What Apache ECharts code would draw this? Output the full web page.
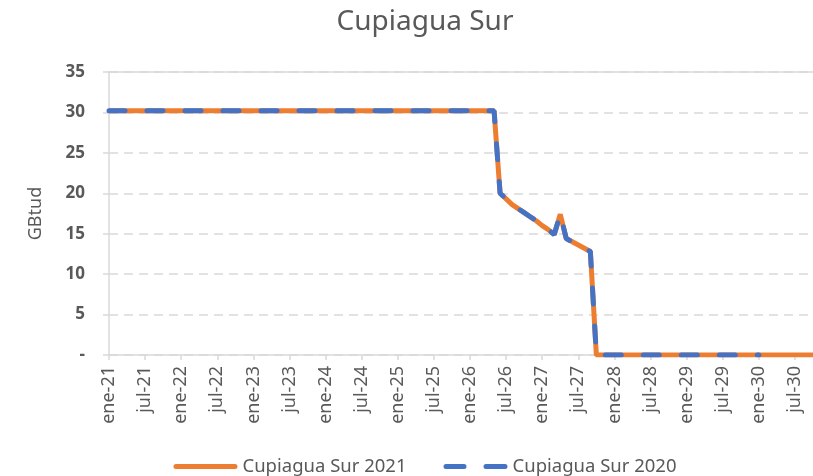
<!DOCTYPE html>
<html>
<head>
    <meta charset="utf-8">
    <title>Cupiagua Sur</title>
    <script src="https://cdn.jsdelivr.net/npm/echarts@6/dist/echarts.min.js"></script>
    <style>
        html, body { margin: 0; padding: 0; background: #fff; overflow: hidden; }
        /* el grafico original es mas ancho y aparece recortado a la derecha */
        #main { width: 850px; height: 476px; }
    </style>
</head>
<body>
<div id="main"></div>
<script type="text/javascript">
// meses en espanol, eje mensual ene-21 .. dic-30
var mesesNombre = ['ene', 'feb', 'mar', 'abr', 'may', 'jun', 'jul', 'ago', 'sep', 'oct', 'nov', 'dic'];
var anios = ['21', '22', '23', '24', '25', '26', '27', '28', '29', '30'];
var meses = [];
for (var a = 0; a < anios.length; a++) {
    for (var m = 0; m < mesesNombre.length; m++) {
        meses.push(mesesNombre[m] + '-' + anios[a]);
    }
}

// GBtud, un valor por mes (una fila por año)
var cupiagua2021 = [
    30.2, 30.2, 30.2, 30.2, 30.2, 30.2, 30.2, 30.2, 30.2, 30.2, 30.2, 30.2,
    30.2, 30.2, 30.2, 30.2, 30.2, 30.2, 30.2, 30.2, 30.2, 30.2, 30.2, 30.2,
    30.2, 30.2, 30.2, 30.2, 30.2, 30.2, 30.2, 30.2, 30.2, 30.2, 30.2, 30.2,
    30.2, 30.2, 30.2, 30.2, 30.2, 30.2, 30.2, 30.2, 30.2, 30.2, 30.2, 30.2,
    30.2, 30.2, 30.2, 30.2, 30.2, 30.2, 30.2, 30.2, 30.2, 30.2, 30.2, 30.2,
    30.2, 30.2, 30.2, 30.2, 30.2, 20.0, 19.3, 18.6, 18.1, 17.6, 17.1, 16.6,
    16.0, 15.5, 14.9, 17.4, 14.4, 14.0, 13.6, 13.2, 12.8, 0, 0, 0,
    0, 0, 0, 0, 0, 0, 0, 0, 0, 0, 0, 0,
    0, 0, 0, 0, 0, 0, 0, 0, 0, 0, 0, 0,
    0, 0, 0, 0, 0, 0, 0, 0, 0, 0, 0, 0
];

// la serie 2020 termina en ene-30
var cupiagua2020 = [
    30.2, 30.2, 30.2, 30.2, 30.2, 30.2, 30.2, 30.2, 30.2, 30.2, 30.2, 30.2,
    30.2, 30.2, 30.2, 30.2, 30.2, 30.2, 30.2, 30.2, 30.2, 30.2, 30.2, 30.2,
    30.2, 30.2, 30.2, 30.2, 30.2, 30.2, 30.2, 30.2, 30.2, 30.2, 30.2, 30.2,
    30.2, 30.2, 30.2, 30.2, 30.2, 30.2, 30.2, 30.2, 30.2, 30.2, 30.2, 30.2,
    30.2, 30.2, 30.2, 30.2, 30.2, 30.2, 30.2, 30.2, 30.2, 30.2, 30.2, 30.2,
    30.2, 30.2, 30.2, 30.2, 30.2, 20.0, 19.3, 18.6, 18.1, 17.6, 17.1, 16.6,
    16.0, 15.5, 14.9, 17.4, 14.4, 14.0, 13.6, 13.2, 12.8, 0, 0, 0,
    0, 0, 0, 0, 0, 0, 0, 0, 0, 0, 0, 0,
    0, 0, 0, 0, 0, 0, 0, 0, 0, 0, 0, 0,
    0
];

var gris = '#595959';
var grisLinea = '#d9d9d9';
var fuente = 'Noto Sans';

// iconos de leyenda: linea continua y linea a trazos (64 x 5)
var iconoContinua = 'path://M2.5,0 H61.5 A2.5,2.5 0 0 1 61.5,5 H2.5 A2.5,2.5 0 0 1 2.5,0 Z';
var iconoTrazos = 'path://M2.5,0 H20.5 A2.5,2.5 0 0 1 20.5,5 H2.5 A2.5,2.5 0 0 1 2.5,0 Z ' +
    'M42.5,0 H61.5 A2.5,2.5 0 0 1 61.5,5 H42.5 A2.5,2.5 0 0 1 42.5,0 Z';

var myChart = echarts.init(document.getElementById('main'));

var option = {
    backgroundColor: '#fff',
    animation: false,
    title: {
        text: 'Cupiagua Sur',
        left: 'center',
        top: 3,
        textStyle: { fontFamily: fuente, fontSize: 28, fontWeight: 'normal', color: gris }
    },
    legend: {
        top: 452,
        left: 'center',
        itemWidth: 64,
        itemHeight: 5,
        itemGap: 37,
        textStyle: { fontFamily: fuente, fontSize: 18.5, color: gris },
        data: [
            { name: 'Cupiagua Sur 2021', icon: iconoContinua },
            { name: 'Cupiagua Sur 2020', icon: iconoTrazos }
        ]
    },
    grid: {
        left: 109,
        right: 25,
        top: 72,
        bottom: 121
    },
    xAxis: [
        {
            type: 'category',
            boundaryGap: false,
            data: meses,
            axisLine: { lineStyle: { color: grisLinea, width: 1.5 } },
            axisTick: { interval: 5, length: 5, lineStyle: { color: grisLinea, width: 1.5 } },
            axisLabel: {
                interval: 5,
                rotate: 90,
                margin: 11,
                fontFamily: fuente,
                fontSize: 18,
                color: gris
            }
        },
        {
            // borde superior del area de trazado
            type: 'category',
            position: 'top',
            boundaryGap: false,
            data: meses,
            axisLine: { lineStyle: { color: grisLinea, width: 1.5 } },
            axisTick: { show: false },
            axisLabel: { show: false }
        }
    ],
    yAxis: {
        type: 'value',
        min: 0,
        max: 35,
        interval: 5,
        name: 'GBtud',
        nameLocation: 'middle',
        nameRotate: 90,
        nameGap: 64,
        nameTextStyle: { fontFamily: fuente, fontSize: 18, color: gris },
        axisLine: { show: true, lineStyle: { color: grisLinea, width: 1.5 } },
        axisTick: { show: true, length: 6, lineStyle: { color: grisLinea, width: 1.5 } },
        axisLabel: {
            margin: 24,
            fontFamily: fuente,
            fontSize: 17,
            fontWeight: 'bold',
            color: gris,
            formatter: function (v) { return v === 0 ? '-' : v; }
        },
        splitLine: { lineStyle: { color: grisLinea, width: 1.5, type: [9, 6] } }
    },
    series: [
        {
            name: 'Cupiagua Sur 2021',
            type: 'line',
            data: cupiagua2021,
            symbol: 'none',
            color: '#ED7D31',
            lineStyle: { width: 5, color: '#ED7D31' }
        },
        {
            name: 'Cupiagua Sur 2020',
            type: 'line',
            data: cupiagua2020,
            symbol: 'none',
            color: '#4472C4',
            lineStyle: { width: 5, color: '#4472C4', type: [16, 22], cap: 'round' }
        }
    ]
};

myChart.setOption(option);
</script>
</body>
</html>
